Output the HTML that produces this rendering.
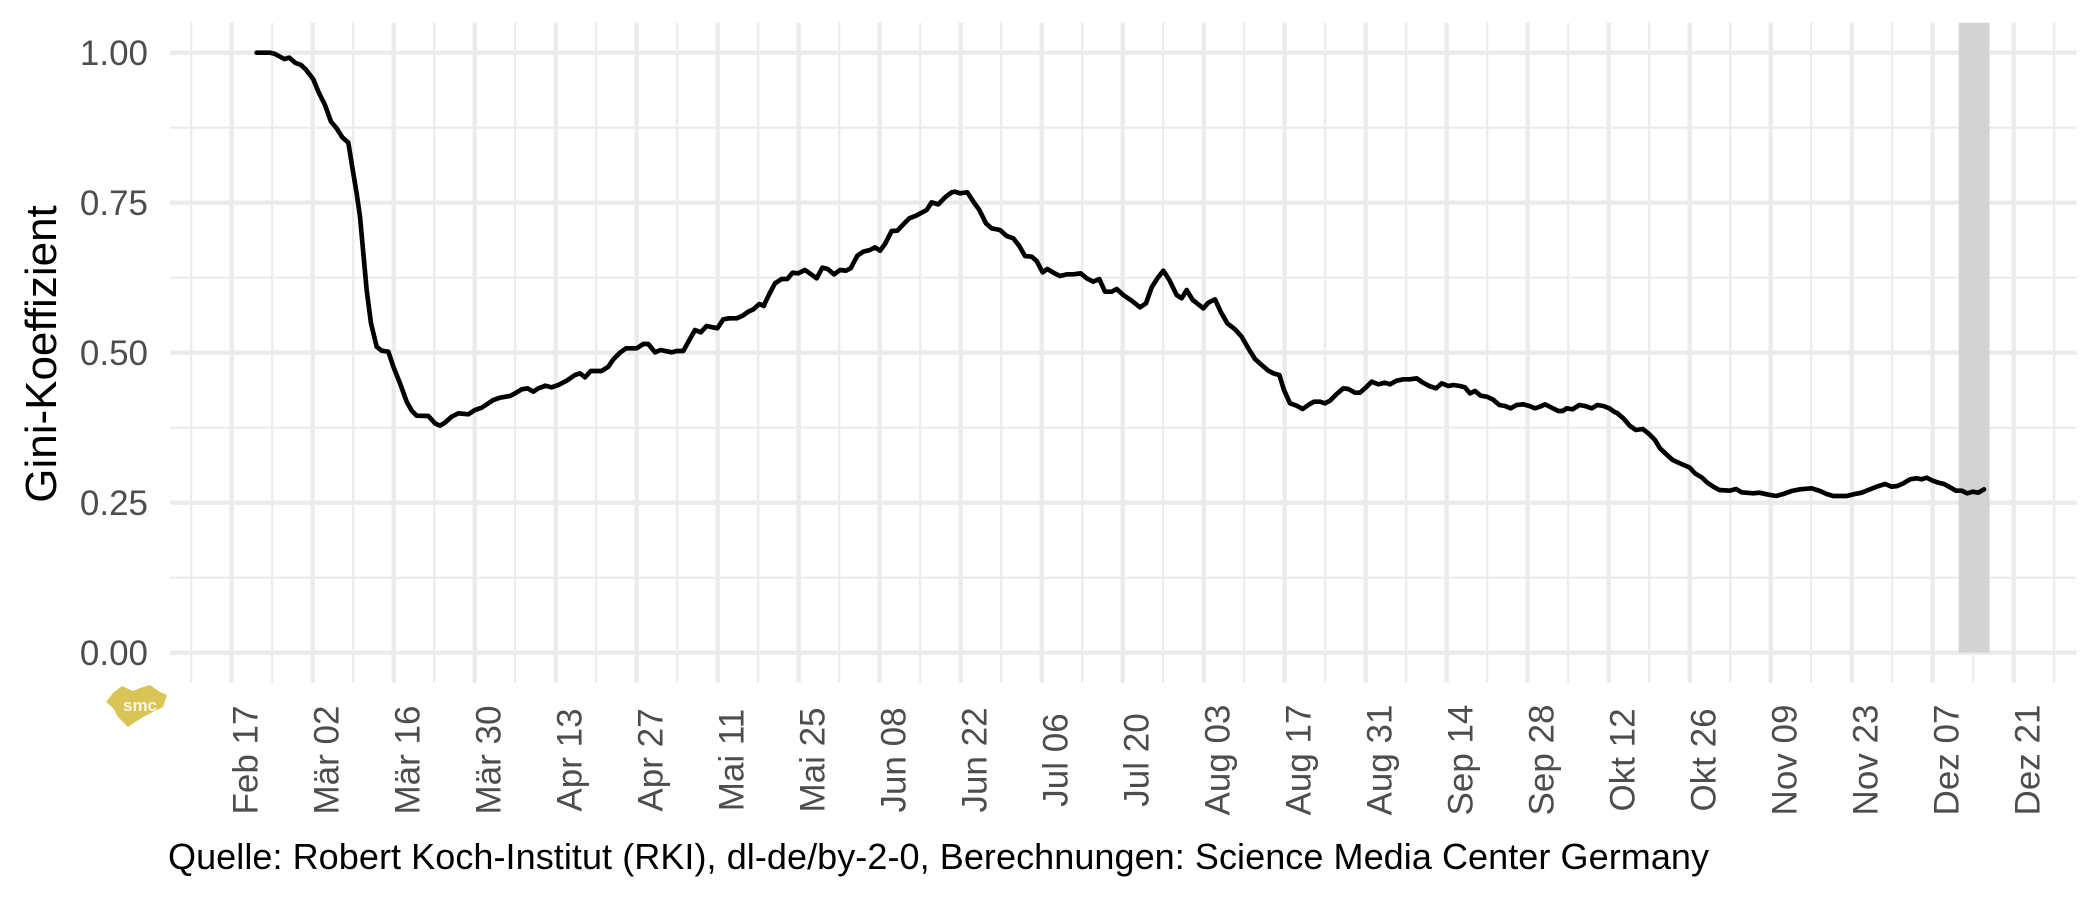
<!DOCTYPE html>
<html><head><meta charset="utf-8"><style>
html,body{margin:0;padding:0;background:#fff;}
svg{display:block;}
text{font-family:"Liberation Sans",Arial,Helvetica,sans-serif;}
</style></head><body>
<svg width="2100" height="900" viewBox="0 0 2100 900" xmlns="http://www.w3.org/2000/svg">
<rect x="0" y="0" width="2100" height="900" fill="#fff"/>
<!-- minor grid -->
<g stroke="#EBEBEB" stroke-width="2.2" fill="none">
<path d="M170 127.7H2076.7M170 277.7H2076.7M170 427.7H2076.7M170 577.7H2076.7"/>
<path d="M191.2 22.7V682.7M272.2 22.7V682.7M353.2 22.7V682.7M434.2 22.7V682.7M515.2 22.7V682.7M596.2 22.7V682.7M677.2 22.7V682.7M758.2 22.7V682.7M839.2 22.7V682.7M920.2 22.7V682.7M1001.2 22.7V682.7M1082.2 22.7V682.7M1163.2 22.7V682.7M1244.2 22.7V682.7M1325.2 22.7V682.7M1406.2 22.7V682.7M1487.2 22.7V682.7M1568.2 22.7V682.7M1649.2 22.7V682.7M1730.2 22.7V682.7M1811.2 22.7V682.7M1892.2 22.7V682.7M1973.2 22.7V682.7M2054.2 22.7V682.7"/>
</g>
<!-- major grid -->
<g stroke="#EBEBEB" stroke-width="4.3" fill="none">
<path d="M170 52.7H2076.7M170 202.7H2076.7M170 352.7H2076.7M170 502.7H2076.7M170 652.7H2076.7"/>
<path d="M231.7 22.7V682.7M312.7 22.7V682.7M393.7 22.7V682.7M474.7 22.7V682.7M555.7 22.7V682.7M636.7 22.7V682.7M717.7 22.7V682.7M798.7 22.7V682.7M879.7 22.7V682.7M960.7 22.7V682.7M1041.7 22.7V682.7M1122.7 22.7V682.7M1203.7 22.7V682.7M1284.7 22.7V682.7M1365.7 22.7V682.7M1446.7 22.7V682.7M1527.7 22.7V682.7M1608.7 22.7V682.7M1689.7 22.7V682.7M1770.7 22.7V682.7M1851.7 22.7V682.7M1932.7 22.7V682.7M2013.7 22.7V682.7"/>
</g>
<!-- shaded rect -->
<rect x="1958.7" y="22.7" width="30.8" height="630" fill="#D3D3D3"/>
<!-- data line -->
<g fill="none" stroke="#000" stroke-width="14" stroke-linejoin="round" stroke-linecap="round">
<polyline transform="translate(245 40) scale(0.333333)" points="35,38 75,38 90,42 118,57 133,53 150,68 168,75 182,88 205,118 220,155 240,195 258,245 275,265 292,292 310,308 320,370 335,460 345,530 355,640 365,750 378,850 395,920 410,932 430,935 445,980 465,1030 485,1085 500,1112 515,1127 550,1128 570,1150 585,1157 600,1148 620,1130 640,1120 670,1123 690,1110 710,1103 730,1090 745,1080 765,1073 795,1068 810,1060 830,1048 848,1045 865,1055 880,1045 900,1038"/>
<polyline transform="translate(540 300) scale(0.333333)" points="15,257 35,262 55,255 80,242 105,225 120,220 135,232 152,213 185,213 205,200 220,178 240,158 258,145 290,145 310,132 325,132 345,157 362,150 395,157 410,153 430,153 448,120 465,90 482,97 500,78 532,85 550,58 568,55 590,55 608,47 625,35 640,28 658,12 672,18"/>
<polyline transform="translate(760 170) scale(0.333333)" points="12,405 28,372 45,340 65,327 82,327 98,308 115,310 135,300 152,312 170,325 187,293 203,297 222,313 240,300 258,302 272,295 292,257 310,245 330,240 345,232 360,242 375,222 395,183 412,182 430,163 448,145 468,137 485,128 500,120 515,97 535,103 555,82 575,67 585,65 600,70 622,67 640,95 658,120 678,160 695,175 720,180 740,198 760,205 778,228 795,258 815,260 830,273 848,307 862,297 880,308 900,318 920,313 940,313 962,310 980,325 1000,335 1018,327 1035,365 1055,365 1070,357 1090,375 1115,392 1140,412 1158,400 1175,352 1192,325 1210,302 1228,330 1250,375 1265,385 1280,360 1298,390 1305,395"/>
<polyline transform="translate(1190 280) scale(0.333333)" points="15,65 40,85 55,68 75,58 92,95 112,130 135,148 155,170 175,205 195,237 215,255 235,272 250,280 268,285 282,330 300,370 320,377 338,387 355,375 372,365 390,365 405,370 420,362 440,342 460,325 475,327 495,338 510,338 528,322 545,305 565,313 585,308 600,313 620,302 640,298 660,298 680,295 697,307 718,318 738,325 755,310 775,318 790,315 810,318 825,322 840,340 855,333 872,347 890,350 908,358 928,375 945,378 962,385 980,375 1000,373 1018,378 1035,385 1050,380 1065,373 1085,383 1105,393 1118,393 1130,385 1148,388 1168,375 1185,378 1205,385 1222,375 1240,378 1258,385 1275,397"/>
<polyline transform="translate(1610 360) scale(0.333333)" points="20,158 40,175 60,198 78,210 98,207 115,220 135,240 150,265 168,282 188,300 210,310 238,322 255,340 275,352 292,368 310,380 328,390 360,392 378,387 395,397 430,400 448,398 470,403 498,408 520,402 545,393 570,388 605,385 630,393 650,402 670,408 710,408 730,403 755,398 775,390 800,380 825,372 845,380 862,378 880,370 900,358 920,355 935,358 950,353 968,362 985,368 1002,372 1020,382 1038,392 1055,392 1072,400 1088,395 1105,398 1122,388"/>
</g>
<!-- y tick labels -->
<g fill="#4D4D4D" font-size="35" text-anchor="end">
<text x="148" y="65.2">1.00</text>
<text x="148" y="215.2">0.75</text>
<text x="148" y="365.2">0.50</text>
<text x="148" y="515.2">0.25</text>
<text x="148" y="665.2">0.00</text>
</g>
<!-- x tick labels -->
<g fill="#4D4D4D" font-size="35" text-anchor="middle">
<text transform="translate(257.7 760) rotate(-90)">Feb 17</text>
<text transform="translate(338.7 760) rotate(-90)">Mär 02</text>
<text transform="translate(419.7 760) rotate(-90)">Mär 16</text>
<text transform="translate(500.7 760) rotate(-90)">Mär 30</text>
<text transform="translate(581.7 760) rotate(-90)">Apr 13</text>
<text transform="translate(662.7 760) rotate(-90)">Apr 27</text>
<text transform="translate(743.7 760) rotate(-90)">Mai 11</text>
<text transform="translate(824.7 760) rotate(-90)">Mai 25</text>
<text transform="translate(905.7 760) rotate(-90)">Jun 08</text>
<text transform="translate(986.7 760) rotate(-90)">Jun 22</text>
<text transform="translate(1067.7 760) rotate(-90)">Jul 06</text>
<text transform="translate(1148.7 760) rotate(-90)">Jul 20</text>
<text transform="translate(1229.7 760) rotate(-90)">Aug 03</text>
<text transform="translate(1310.7 760) rotate(-90)">Aug 17</text>
<text transform="translate(1391.7 760) rotate(-90)">Aug 31</text>
<text transform="translate(1472.7 760) rotate(-90)">Sep 14</text>
<text transform="translate(1553.7 760) rotate(-90)">Sep 28</text>
<text transform="translate(1634.7 760) rotate(-90)">Okt 12</text>
<text transform="translate(1715.7 760) rotate(-90)">Okt 26</text>
<text transform="translate(1796.7 760) rotate(-90)">Nov 09</text>
<text transform="translate(1877.7 760) rotate(-90)">Nov 23</text>
<text transform="translate(1958.7 760) rotate(-90)">Dez 07</text>
<text transform="translate(2039.7 760) rotate(-90)">Dez 21</text>
</g>
<!-- y axis title -->
<text transform="translate(56 354) rotate(-90)" font-size="44" fill="#000" text-anchor="middle">Gini-Koeffizient</text>
<!-- caption -->
<text x="168" y="869" font-size="36" fill="#000" textLength="1541" lengthAdjust="spacing">Quelle: Robert Koch-Institut (RKI), dl-de/by-2-0, Berechnungen: Science Media Center Germany</text>
<!-- logo -->
<polygon points="106,702 113,693 122,686 133,691 140,688 150,685 160,692 167,695 163,707 153,712 143,717 128,727 118,717 113,708" fill="#D8C555"/>
<text x="140" y="711" font-size="17" font-weight="bold" fill="#fff" text-anchor="middle" opacity="0.85">smc</text>
</svg>
</body></html>
